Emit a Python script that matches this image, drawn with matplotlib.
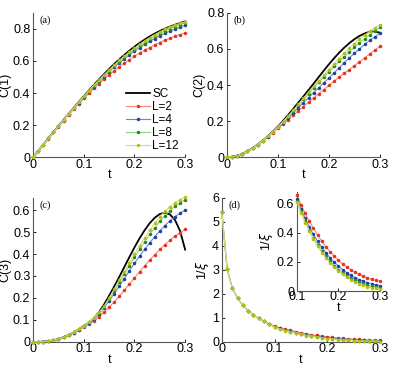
import numpy as np
import matplotlib
matplotlib.use("Agg")
import matplotlib.pyplot as plt
from matplotlib.ticker import FormatStrFormatter

# time grid (markers every 0.01)
t = [0.00, 0.01, 0.02, 0.03, 0.04, 0.05, 0.06, 0.07, 0.08, 0.09, 0.10,
     0.11, 0.12, 0.13, 0.14, 0.15, 0.16, 0.17, 0.18, 0.19, 0.20,
     0.21, 0.22, 0.23, 0.24, 0.25, 0.26, 0.27, 0.28, 0.29, 0.30]

labels = ["L=2", "L=4", "L=8", "L=12"]

# panel (a): C(1)
c1_sc = [0, .039, .078, .117, .156, .194, .232, .270, .307, .344, .380,
         .416, .451, .485, .518, .550, .581, .610, .638, .664, .689,
         .712, .733, .753, .771, .787, .801, .814, .826, .837, .847]
c1_L2 = [0, .039, .078, .116, .154, .191, .228, .264, .299, .333, .366,
         .398, .429, .459, .488, .513, .538, .562, .585, .608, .630,
         .649, .667, .684, .700, .715, .729, .742, .754, .765, .776]
c1_L4 = [0, .039, .078, .117, .155, .193, .231, .268, .304, .339, .374,
         .407, .440, .472, .503, .533, .561, .588, .614, .638, .661,
         .683, .703, .722, .740, .757, .772, .786, .799, .811, .822]
c1_L8 = [0, .039, .078, .117, .156, .194, .232, .269, .306, .342, .377,
         .412, .445, .478, .509, .539, .568, .596, .622, .647, .671,
         .694, .715, .735, .754, .771, .787, .802, .815, .827, .838]
c1_L12 = [0, .039, .078, .117, .156, .194, .232, .270, .307, .343, .379,
          .414, .448, .481, .513, .544, .574, .603, .630, .656, .680,
          .703, .725, .745, .764, .781, .797, .811, .824, .835, .845]

# panel (b): C(2)
c2_sc = [0, .002, .008, .018, .032, .050, .070, .092, .116, .142, .170,
         .201, .234, .268, .303, .337, .372, .408, .444, .480, .515,
         .548, .579, .607, .632, .654, .672, .686, .695, .697, .690]
c2_L2 = [0, .002, .008, .018, .032, .049, .068, .089, .112, .136, .160,
         .183, .207, .231, .256, .280, .304, .328, .352, .375, .398,
         .421, .443, .465, .486, .507, .528, .550, .572, .593, .614]
c2_L4 = [0, .002, .008, .018, .032, .050, .069, .091, .114, .139, .165,
         .191, .218, .246, .274, .302, .330, .358, .385, .412, .438,
         .467, .495, .523, .550, .576, .601, .625, .647, .667, .686]
c2_L8 = [0, .002, .008, .018, .032, .050, .070, .092, .115, .140, .167,
         .195, .225, .256, .288, .320, .352, .384, .415, .445, .474,
         .503, .531, .558, .584, .609, .633, .656, .678, .699, .719]
c2_L12 = [0, .002, .008, .018, .032, .050, .070, .092, .116, .141, .168,
          .197, .228, .260, .293, .327, .360, .393, .425, .456, .486,
          .517, .547, .576, .604, .630, .654, .676, .697, .716, .734]

# panel (c): C(3)
c3_sc = [0, .000, .001, .003, .007, .013, .021, .031, .043, .057, .073,
         .088, .108, .135, .170, .210, .252, .296, .341, .386, .430,
         .471, .508, .540, .565, .582, .588, .580, .555, .505, .420]
c3_L2 = [0, .000, .001, .003, .007, .013, .021, .030, .041, .054, .068,
         .081, .096, .114, .135, .158, .182, .208, .235, .263, .291,
         .319, .346, .372, .397, .421, .443, .463, .481, .497, .512]
c3_L4 = [0, .000, .001, .003, .007, .013, .021, .031, .042, .055, .070,
         .086, .104, .126, .155, .186, .219, .253, .288, .323, .358,
         .390, .421, .451, .479, .505, .529, .551, .570, .586, .600]
c3_L8 = [0, .000, .001, .003, .007, .013, .021, .031, .043, .057, .073,
         .089, .108, .131, .158, .195, .233, .271, .309, .347, .385,
         .421, .456, .489, .520, .549, .575, .598, .617, .633, .646]
c3_L12 = [0, .000, .001, .003, .007, .013, .021, .031, .043, .057, .073,
          .090, .110, .134, .162, .200, .240, .280, .320, .360, .400,
          .438, .474, .508, .540, .570, .594, .615, .633, .648, .660]

# panel (d): inverse correlation length 1/xi
xi_L2 = [5.41, 3.04, 2.24, 1.81, 1.52, 1.30, 1.12, .98, .86, .75, .660,
         .594, .534, .480, .432, .385, .343, .305, .271, .240, .212,
         .188, .166, .147, .130, .115, .102, .091, .081, .073, .066]
xi_L4 = [5.41, 3.04, 2.24, 1.81, 1.52, 1.30, 1.12, .98, .85, .74, .635,
         .565, .500, .442, .390, .343, .301, .263, .229, .199, .172,
         .148, .127, .109, .093, .079, .068, .058, .050, .043, .037]
xi_L8 = [5.41, 3.04, 2.24, 1.81, 1.52, 1.30, 1.12, .98, .85, .73, .620,
         .547, .481, .421, .367, .319, .276, .238, .204, .174, .148,
         .125, .105, .088, .073, .060, .049, .040, .032, .026, .021]
xi_L12 = [5.41, 3.04, 2.24, 1.81, 1.52, 1.30, 1.12, .98, .85, .73, .612,
          .538, .471, .410, .356, .308, .265, .227, .193, .163, .137,
          .114, .094, .077, .062, .050, .040, .031, .024, .018, .013]

line_colors = ["#f08878", "#6f86cc", "#8fd08f", "#d6dc70"]
mark_colors = ["#e8321e", "#1f3fa8", "#1e8c1e", "#b4be14"]

plt.rcParams["font.family"] = "Liberation Sans"
plt.rcParams["font.size"] = 9

fig = plt.figure(figsize=(3.99, 3.68), dpi=100)


def style_axes(ax, ylim, yticks, ylabel, tag=None, fmt="%g"):
    ax.set_xlim(0, 0.3)
    ax.set_ylim(*ylim)
    ax.set_xticks([0, 0.1, 0.2, 0.3])
    ax.set_yticks(yticks)
    ax.xaxis.set_major_formatter(FormatStrFormatter("%g"))
    ax.yaxis.set_major_formatter(FormatStrFormatter(fmt))
    for s in ["top", "right"]:
        ax.spines[s].set_visible(False)
    for s in ["left", "bottom"]:
        ax.spines[s].set_color("#555555")
        ax.spines[s].set_linewidth(0.8)
    ax.tick_params(direction="in", length=2.5, width=0.6, pad=1.0,
                   labelsize=9, colors="black")
    ax.tick_params(axis="y", pad=2.0)
    ax.set_xlabel("t", fontsize=9, labelpad=-1)
    ax.set_ylabel(ylabel, fontsize=9, labelpad=1)
    if tag:
        ax.text(0.04, 0.985, tag, transform=ax.transAxes, ha="left", va="top",
                fontsize=7.5, family="Liberation Serif")


def draw(ax, sc, series, tt=t):
    if sc is not None:
        ax.plot(tt, sc, color="black", lw=1.3, label="SC", clip_on=False, zorder=3)
    for ys, lab, lc, mc in zip(series, labels, line_colors, mark_colors):
        ax.plot(tt, ys, "-", color=lc, lw=0.8, marker="o", ms=1.5,
                mfc=mc, mec=mc, label=lab, clip_on=False, zorder=4)


ax_a = fig.add_axes([0.083, 0.573, 0.381, 0.392])
draw(ax_a, c1_sc, [c1_L2, c1_L4, c1_L8, c1_L12])
style_axes(ax_a, (0, 0.9), [0, 0.2, 0.4, 0.6, 0.8], "C(1)", "(a)")
ax_a.legend(loc="lower right", frameon=False, fontsize=8.5, handlelength=2.0,
            handletextpad=0.2, labelspacing=0.1, borderaxespad=0.0,
            bbox_to_anchor=(0.99, 0.0))

ax_b = fig.add_axes([0.569, 0.573, 0.383, 0.392])
draw(ax_b, c2_sc, [c2_L2, c2_L4, c2_L8, c2_L12])
style_axes(ax_b, (0, 0.8), [0, 0.2, 0.4, 0.6, 0.8], "C(2)", "(b)")

ax_c = fig.add_axes([0.083, 0.071, 0.381, 0.391])
draw(ax_c, c3_sc, [c3_L2, c3_L4, c3_L8, c3_L12])
style_axes(ax_c, (0, 0.655), [0, 0.1, 0.2, 0.3, 0.4, 0.5, 0.6], "C(3)", "(c)")

ax_d = fig.add_axes([0.556, 0.071, 0.396, 0.391])
draw(ax_d, None, [xi_L2, xi_L4, xi_L8, xi_L12])
style_axes(ax_d, (0, 6), [0, 1, 2, 3, 4, 5, 6], r"1/$\xi$", "(d)")

# inset only shows t >= 0.1
ax_in = fig.add_axes([0.744, 0.209, 0.208, 0.269])
draw(ax_in, None, [xi_L2[10:], xi_L4[10:], xi_L8[10:], xi_L12[10:]], tt=t[10:])
style_axes(ax_in, (0, 0.68), [0, 0.2, 0.4, 0.6], r"1/$\xi$")
ax_in.set_xlim(0.1, 0.3)
ax_in.set_xticks([0.1, 0.2, 0.3])
ax_in.tick_params(axis="x", pad=0)

fig.savefig("out.png", dpi=100)
